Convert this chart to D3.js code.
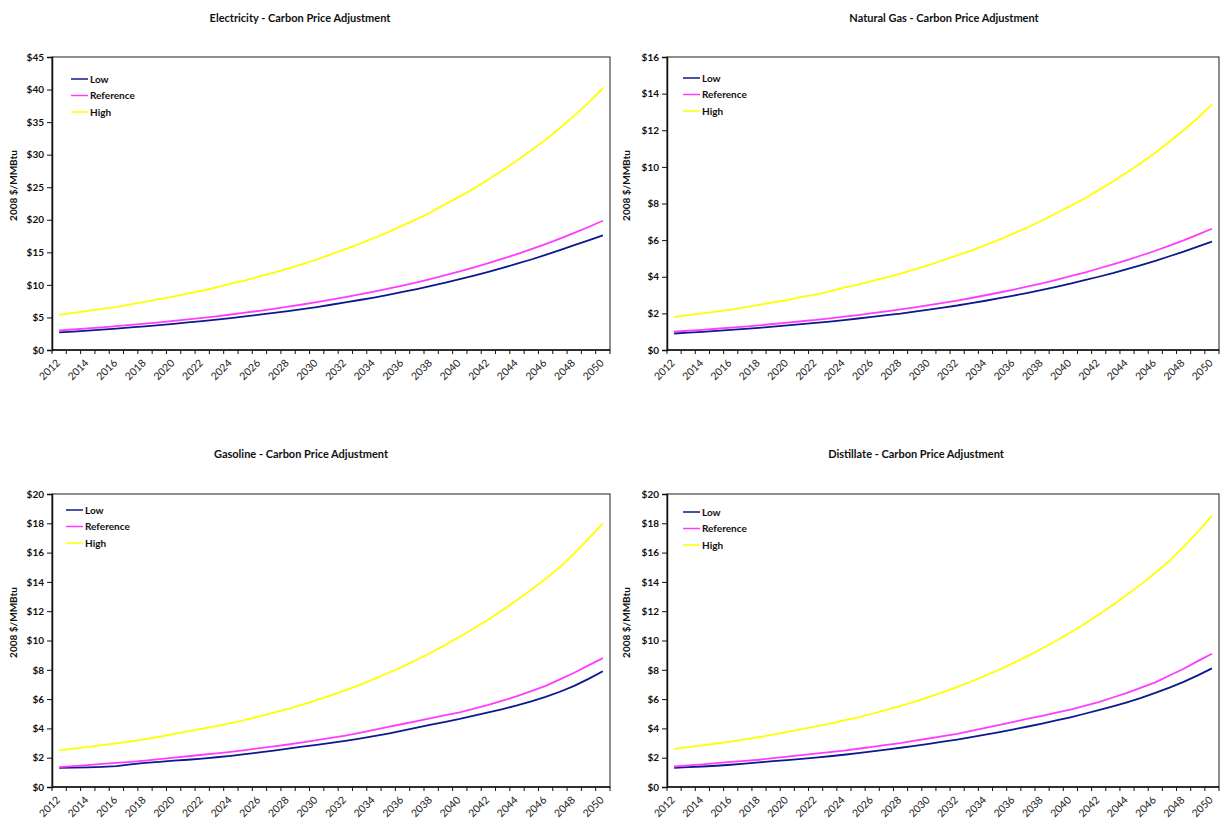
<!DOCTYPE html>
<html>
<head>
<meta charset="utf-8">
<script src="https://cdn.jsdelivr.net/npm/d3@7"></script>
<style>
  html, body { margin: 0; padding: 0; background: #fff; }
  svg { display: block; font-family: Lato, "Open Sans", sans-serif; }
</style>
</head>
<body>
<svg id="chart" width="1220" height="821"></svg>
<script>
// Years on the category axis
const years = d3.range(2012, 2051);
const yearLabels = years.filter((y, i) => i % 2 === 0);
const seriesNames = ["Low", "Reference", "High"];

// Electricity, 2008 $/MMBtu
const electricityLow = [2.70, 2.83, 2.97, 3.12, 3.29, 3.46, 3.64, 3.83, 4.02, 4.23, 4.44, 4.66, 4.90, 5.15, 5.42, 5.70, 5.98, 6.29, 6.60, 6.95, 7.30, 7.68, 8.06, 8.48, 8.91, 9.36, 9.84, 10.34, 10.87, 11.42, 12.00, 12.60, 13.25, 13.90, 14.60, 15.35, 16.10, 16.85, 17.60];
const electricityRef = [3.00, 3.15, 3.31, 3.48, 3.66, 3.85, 4.04, 4.25, 4.47, 4.70, 4.93, 5.18, 5.45, 5.73, 6.02, 6.33, 6.65, 6.99, 7.34, 7.72, 8.11, 8.53, 8.96, 9.42, 9.90, 10.40, 10.93, 11.49, 12.08, 12.69, 13.34, 14.02, 14.73, 15.48, 16.27, 17.10, 17.98, 18.89, 19.85];
const electricityHigh = [5.4, 5.7, 6.0, 6.3, 6.6, 7.0, 7.4, 7.8, 8.2, 8.7, 9.1, 9.6, 10.2, 10.7, 11.3, 11.9, 12.5, 13.2, 13.9, 14.7, 15.5, 16.3, 17.2, 18.1, 19.1, 20.1, 21.2, 22.4, 23.6, 24.8, 26.2, 27.6, 29.1, 30.7, 32.3, 34.1, 36.0, 38.0, 40.2];

// Natural gas
const gasLow = [0.90, 0.95, 0.99, 1.04, 1.10, 1.15, 1.21, 1.28, 1.34, 1.41, 1.48, 1.55, 1.63, 1.72, 1.81, 1.90, 1.99, 2.10, 2.20, 2.32, 2.43, 2.56, 2.69, 2.83, 2.97, 3.12, 3.28, 3.45, 3.62, 3.81, 4.00, 4.20, 4.42, 4.64, 4.87, 5.12, 5.37, 5.64, 5.92];
const gasRef = [1.00, 1.05, 1.10, 1.16, 1.22, 1.28, 1.35, 1.42, 1.49, 1.57, 1.64, 1.73, 1.82, 1.91, 2.01, 2.11, 2.22, 2.33, 2.45, 2.57, 2.70, 2.84, 2.99, 3.14, 3.30, 3.47, 3.64, 3.83, 4.03, 4.23, 4.45, 4.67, 4.91, 5.16, 5.42, 5.70, 5.99, 6.30, 6.62];
const gasHigh = [1.80, 1.90, 2.00, 2.10, 2.20, 2.33, 2.47, 2.60, 2.73, 2.90, 3.03, 3.20, 3.40, 3.57, 3.77, 3.97, 4.17, 4.40, 4.63, 4.90, 5.17, 5.43, 5.73, 6.03, 6.37, 6.70, 7.07, 7.47, 7.87, 8.27, 8.73, 9.20, 9.70, 10.23, 10.77, 11.37, 12.00, 12.67, 13.40];

// Gasoline
const gasolineLow = [1.30, 1.32, 1.34, 1.37, 1.42, 1.55, 1.65, 1.72, 1.80, 1.86, 1.94, 2.03, 2.13, 2.24, 2.36, 2.48, 2.62, 2.75, 2.88, 3.01, 3.15, 3.30, 3.47, 3.65, 3.85, 4.05, 4.25, 4.45, 4.65, 4.88, 5.10, 5.32, 5.57, 5.85, 6.15, 6.50, 6.90, 7.38, 7.90];
const gasolineRef = [1.35, 1.42, 1.50, 1.58, 1.65, 1.72, 1.80, 1.90, 2.00, 2.10, 2.20, 2.30, 2.40, 2.52, 2.65, 2.77, 2.90, 3.05, 3.20, 3.35, 3.50, 3.70, 3.90, 4.10, 4.30, 4.50, 4.70, 4.90, 5.10, 5.35, 5.60, 5.90, 6.20, 6.55, 6.90, 7.35, 7.80, 8.30, 8.80];
const gasolineHigh = [2.50, 2.62, 2.74, 2.86, 2.98, 3.12, 3.27, 3.43, 3.62, 3.80, 3.98, 4.16, 4.36, 4.58, 4.82, 5.07, 5.33, 5.62, 5.93, 6.25, 6.60, 6.97, 7.36, 7.78, 8.22, 8.69, 9.18, 9.70, 10.25, 10.83, 11.44, 12.08, 12.76, 13.47, 14.22, 15.01, 15.95, 16.95, 18.00];

// Distillate
const distillateLow = [1.30, 1.35, 1.40, 1.45, 1.52, 1.60, 1.68, 1.76, 1.84, 1.92, 2.01, 2.10, 2.20, 2.31, 2.43, 2.55, 2.68, 2.81, 2.95, 3.09, 3.24, 3.40, 3.57, 3.75, 3.94, 4.13, 4.33, 4.54, 4.76, 5.00, 5.24, 5.50, 5.78, 6.08, 6.42, 6.78, 7.18, 7.62, 8.10];
const distillateRef = [1.40, 1.47, 1.55, 1.63, 1.71, 1.78, 1.86, 1.97, 2.07, 2.17, 2.28, 2.38, 2.48, 2.61, 2.74, 2.87, 3.00, 3.16, 3.31, 3.47, 3.62, 3.83, 4.04, 4.24, 4.45, 4.66, 4.86, 5.07, 5.28, 5.54, 5.80, 6.11, 6.42, 6.78, 7.14, 7.61, 8.07, 8.59, 9.10];
const distillateHigh = [2.60, 2.72, 2.84, 2.97, 3.10, 3.25, 3.40, 3.57, 3.76, 3.95, 4.14, 4.33, 4.54, 4.76, 5.00, 5.26, 5.53, 5.83, 6.14, 6.47, 6.82, 7.20, 7.60, 8.02, 8.47, 8.95, 9.45, 9.98, 10.54, 11.13, 11.76, 12.42, 13.12, 13.85, 14.62, 15.44, 16.40, 17.42, 18.50];

// Panel titles and y-axis maxima / steps
const titles = [
  "Electricity - Carbon Price Adjustment",
  "Natural Gas - Carbon Price Adjustment",
  "Gasoline - Carbon Price Adjustment",
  "Distillate - Carbon Price Adjustment"
];
const yMaxes = [45, 16, 20, 20];
const ySteps = [5, 2, 2, 2];
const yAxisTitle = "2008 $/MMBtu";

const panelData = [
  [electricityLow, electricityRef, electricityHigh],
  [gasLow, gasRef, gasHigh],
  [gasolineLow, gasolineRef, gasolineHigh],
  [distillateLow, distillateRef, distillateHigh]
];

// Layout of each panel (pixels)
const layout = [
  { x0: 52,  x1: 610,  y0: 57,  y1: 350, titleX: 300, titleY: 22,  axisTitleX: 17,  legendX: 71,  legendY: 79 },
  { x0: 667, x1: 1219, y0: 57,  y1: 350, titleX: 944, titleY: 22,  axisTitleX: 630, legendX: 683, legendY: 78 },
  { x0: 52,  x1: 610,  y0: 494, y1: 787, titleX: 301, titleY: 458, axisTitleX: 17,  legendX: 66,  legendY: 510 },
  { x0: 667, x1: 1219, y0: 494, y1: 787, titleX: 916, titleY: 458, axisTitleX: 630, legendX: 683, legendY: 512 }
];

const colors = { Low: "#0c1a8a", Reference: "#ff3cff", High: "#ffff00" };

const svg = d3.select("#chart");

panelData.forEach((series, p) => {
  const L = layout[p];
  const g = svg.append("g");

  const x = d3.scaleBand().domain(years).range([L.x0, L.x1]).padding(0);
  const y = d3.scaleLinear().domain([0, yMaxes[p]]).range([L.y1, L.y0]);
  const cx = yr => x(yr) + x.bandwidth() / 2;

  // Title
  g.append("text")
    .attr("x", L.titleX).attr("y", L.titleY)
    .attr("text-anchor", "middle")
    .attr("font-size", 11).attr("font-weight", "bold").attr("fill", "#111")
    .text(titles[p]);

  // Plot-area frame
  g.append("rect")
    .attr("x", L.x0).attr("y", L.y0)
    .attr("width", L.x1 - L.x0).attr("height", L.y1 - L.y0)
    .attr("fill", "none").attr("stroke", "#444").attr("stroke-width", 1.2);

  // Y axis
  const yAxis = d3.axisLeft(y)
    .tickValues(d3.range(0, yMaxes[p] + ySteps[p] / 2, ySteps[p]))
    .tickFormat(d => "$" + d)
    .tickSize(5).tickPadding(3);
  const ya = g.append("g").attr("transform", `translate(${L.x0},0)`).call(yAxis);
  ya.select(".domain").attr("stroke", "#111").attr("stroke-width", 1.5);
  ya.selectAll(".tick line").attr("stroke", "#111");
  ya.selectAll(".tick text")
    .attr("font-family", "Lato, sans-serif")
    .attr("font-size", 10).attr("font-weight", "bold").attr("fill", "#111");

  // Y axis title
  g.append("text")
    .attr("transform", `translate(${L.axisTitleX},${(L.y0 + L.y1) / 2 - 18}) rotate(-90)`)
    .attr("text-anchor", "middle")
    .attr("font-size", 10).attr("font-weight", "bold").attr("fill", "#111")
    .text(yAxisTitle);

  // X axis: baseline, tick marks at category boundaries, labels every other year
  const boundaries = years.map(yr => x(yr)).concat([L.x1]);
  g.append("line")
    .attr("x1", L.x0).attr("x2", L.x1).attr("y1", L.y1).attr("y2", L.y1)
    .attr("stroke", "#111").attr("stroke-width", 1.5);
  g.selectAll(".xtick").data(boundaries).join("line")
    .attr("class", "xtick")
    .attr("x1", d => d).attr("x2", d => d)
    .attr("y1", L.y1).attr("y2", L.y1 + 4)
    .attr("stroke", "#111");
  g.selectAll(".xlabel").data(yearLabels).join("text")
    .attr("class", "xlabel")
    .attr("transform", d => `translate(${cx(d) - 1},${L.y1 + 11}) rotate(-45)`)
    .attr("text-anchor", "end").attr("dy", "0.35em")
    .attr("font-size", 10.5).attr("fill", "#222")
    .text(d => d);

  // Series lines
  const line = d3.line().x((d, i) => cx(years[i])).y(d => y(d));
  seriesNames.forEach((name, s) => {
    g.append("path")
      .datum(series[s])
      .attr("d", line)
      .attr("fill", "none")
      .attr("stroke", colors[name])
      .attr("stroke-width", 1.8)
      .attr("stroke-linejoin", "round");
  });

  // Legend
  seriesNames.forEach((name, s) => {
    const ly = L.legendY + s * 16.5;
    g.append("line")
      .attr("x1", L.legendX).attr("x2", L.legendX + 17)
      .attr("y1", ly).attr("y2", ly)
      .attr("stroke", colors[name]).attr("stroke-width", 1.5);
    g.append("text")
      .attr("x", L.legendX + 19).attr("y", ly).attr("dy", "0.35em")
      .attr("font-size", 10).attr("font-weight", "bold").attr("fill", "#111")
      .text(name);
  });
});
</script>
</body>
</html>
